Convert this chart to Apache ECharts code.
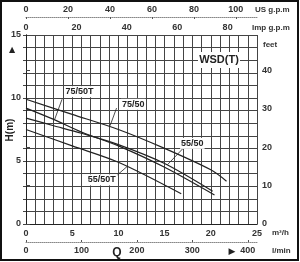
<!DOCTYPE html>
<html><head><meta charset="utf-8">
<script src="https://cdn.jsdelivr.net/npm/echarts@6/dist/echarts.min.js"></script>
<style>html,body{margin:0;padding:0;background:#fff}#c{width:300px;height:262px}</style>
</head><body><div id="c"></div>
<script>
// Flow in m3/h, head in m
const q_75_50  = [0, 5, 10, 15, 20, 21.7];
const h_75_50  = [9.9, 8.7, 7.5, 6.0, 4.3, 3.4];
const q_75_50T = [0, 3, 6, 10, 15, 20.4];
const h_75_50T = [9.2, 8.3, 7.3, 6.2, 4.5, 2.3];
const q_55_50  = [0, 3, 6, 10, 15, 20.2];
const h_55_50  = [8.4, 7.8, 7.2, 6.3, 4.8, 2.6];
const q_55_50T = [0, 5, 10, 16.8];
const h_55_50T = [7.5, 6.2, 4.9, 2.4];
const seriesNames = ['75/50', '75/50T', '55/50', '55/50T'];
const qMax = 25, hMax = 15;
const M_TO_FT = 3.2808, M3H_TO_IMP = 3.6662, M3H_TO_US = 4.4029, M3H_TO_LMIN = 16.6667;
const qTicks = [0, 5, 10, 15, 20, 25];
const hTicks = [0, 5, 10, 15];

const font = 'Liberation Sans, Arial, sans-serif';
const lab = {fontFamily: font, fontSize: 9, color: '#333', fontWeight: 'bold'};
function pairs(q, h) { return q.map((v, i) => [v, h[i]]); }

const chart = echarts.init(document.getElementById('c'), null, {renderer: 'canvas'});
function mkSeries(name, q, h, labelPos, leader) {
  return {
    name, type: 'line', data: pairs(q, h), smooth: 0.3, showSymbol: false,
    xAxisIndex: 0, yAxisIndex: 0,
    lineStyle: {color: '#222', width: 1.2}, z: 5, animation: false,
    markLine: {symbol: 'none', silent: true, animation: false,
      lineStyle: {color: '#222', width: 0.8, type: 'solid'}, label: {show: false},
      data: [[{coord: leader[0]}, {coord: leader[1]}]]},
    markPoint: {symbol: 'rect', symbolSize: 0, silent: true, animation: false,
      label: {show: true, formatter: name, fontFamily: font, fontSize: 9, fontWeight: 'bold',
        color: '#222', backgroundColor: '#fff', padding: [1, 1]},
      data: [{coord: labelPos}]}
  };
}
chart.setOption({
  animation: false,
  grid: {left: 26, right: 43, top: 35, bottom: 38},
  xAxis: [
    {type: 'value', min: 0, max: qMax, interval: 1, position: 'bottom',
      axisLine: {show: true, lineStyle: {color: '#222', width: 1}}, axisTick: {show: false},
      axisLabel: Object.assign({margin: 5, formatter: v => qTicks.includes(v) ? String(v) : ''}, lab),
      splitLine: {show: true, lineStyle: {color: '#444', width: 1}}},
    {type: 'value', min: 0, max: qMax * M3H_TO_IMP, interval: 20, position: 'top',
      axisLine: {show: true, lineStyle: {color: '#222', width: 1}}, axisTick: {show: false},
      axisLabel: Object.assign({margin: 3, showMaxLabel: false, formatter: v => v % 20 === 0 ? String(v) : ''}, lab),
      splitLine: {show: false}},
    {type: 'value', min: 0, max: qMax * M3H_TO_US, interval: 20, position: 'top', offset: 18,
      axisLine: {show: true, lineStyle: {color: '#888', width: 1, type: 'dotted'}},
      axisTick: {show: true, inside: true, length: 2, lineStyle: {color: '#555'}},
      axisLabel: Object.assign({margin: 3, showMaxLabel: false, formatter: v => v % 20 === 0 ? String(v) : ''}, lab),
      splitLine: {show: false}},
    {type: 'value', min: 0, max: qMax * M3H_TO_LMIN, interval: 100, position: 'bottom', offset: 18,
      axisLine: {show: true, lineStyle: {color: '#888', width: 1, type: 'dotted'}},
      axisTick: {show: true, inside: true, length: 2, lineStyle: {color: '#555'}},
      axisLabel: Object.assign({margin: 4, showMaxLabel: false, formatter: v => v % 100 === 0 ? String(v) : ''}, lab),
      splitLine: {show: false}}
  ],
  yAxis: [
    {type: 'value', min: 0, max: hMax, interval: 1, position: 'left',
      axisLine: {show: true, lineStyle: {color: '#222', width: 1}},
      axisTick: {show: true, length: 3, lineStyle: {color: '#444'}},
      axisLabel: Object.assign({margin: 5, formatter: v => hTicks.includes(v) ? String(v) : ''}, lab),
      splitLine: {show: true, lineStyle: {color: '#444', width: 1}}},
    {type: 'value', min: 0, max: hMax * M_TO_FT, interval: 10, position: 'right',
      axisLine: {show: true, lineStyle: {color: '#222', width: 1}},
      axisTick: {show: true, length: 4, lineStyle: {color: '#444'}},
      axisLabel: Object.assign({margin: 5, showMaxLabel: false, formatter: v => v % 10 === 0 ? String(v) : ''}, lab),
      splitLine: {show: false}}
  ],
  series: [
    mkSeries(seriesNames[0], q_75_50, h_75_50, [11.6, 9.5], [[9.8, 9.2], [9.1, 7.8]]),
    mkSeries(seriesNames[1], q_75_50T, h_75_50T, [5.8, 10.5], [[3.9, 9.9], [3.1, 8.3]]),
    mkSeries(seriesNames[2], q_55_50, h_55_50, [18.0, 6.4], [[17.0, 6.0], [15.3, 4.7]]),
    mkSeries(seriesNames[3], q_55_50T, h_55_50T, [8.2, 3.5], [[9.9, 3.9], [11.0, 4.6]])
  ],
  graphic: [
    {type: 'rect', shape: {x: 1, y: 1, width: 297, height: 259}, style: {fill: 'none', stroke: '#111', lineWidth: 2}, z: 100},
    {type: 'rect', shape: {x: 198, y: 52, width: 42, height: 16}, style: {fill: '#fff'}, z: 50},
    {type: 'text', x: 219, y: 60, style: {text: 'WSD(T)', font: 'bold 11px ' + font, fill: '#222', align: 'center', verticalAlign: 'middle'}, z: 51},
    {type: 'text', x: 255, y: 10, style: {text: 'US g.p.m', font: 'bold 8px ' + font, fill: '#333', align: 'left', verticalAlign: 'middle'}},
    {type: 'text', x: 252, y: 28, style: {text: 'Imp g.p.m', font: 'bold 8px ' + font, fill: '#333', align: 'left', verticalAlign: 'middle'}},
    {type: 'text', x: 263, y: 45, style: {text: 'feet', font: 'bold 8px ' + font, fill: '#333', align: 'left', verticalAlign: 'middle'}},
    {type: 'text', x: 272, y: 233, style: {text: 'm³/h', font: 'bold 8px ' + font, fill: '#333', align: 'left', verticalAlign: 'middle'}},
    {type: 'text', x: 272, y: 251, style: {text: 'l/min', font: 'bold 8px ' + font, fill: '#333', align: 'left', verticalAlign: 'middle'}},
    {type: 'text', x: 117, y: 253, style: {text: 'Q', font: 'bold 12px ' + font, fill: '#222', align: 'center', verticalAlign: 'middle'}},
    {type: 'text', x: 232, y: 252, style: {text: '▶', font: '9px DejaVu Sans', fill: '#222', align: 'center', verticalAlign: 'middle'}},
    {type: 'text', x: 12, y: 50, style: {text: '▲', font: '8px DejaVu Sans', fill: '#222', align: 'center', verticalAlign: 'middle'}},
    {type: 'text', x: 10, y: 130, rotation: Math.PI / 2, style: {text: 'H(m)', font: 'bold 10px ' + font, fill: '#222', align: 'center', verticalAlign: 'middle'}}
  ]
});
</script></body></html>
